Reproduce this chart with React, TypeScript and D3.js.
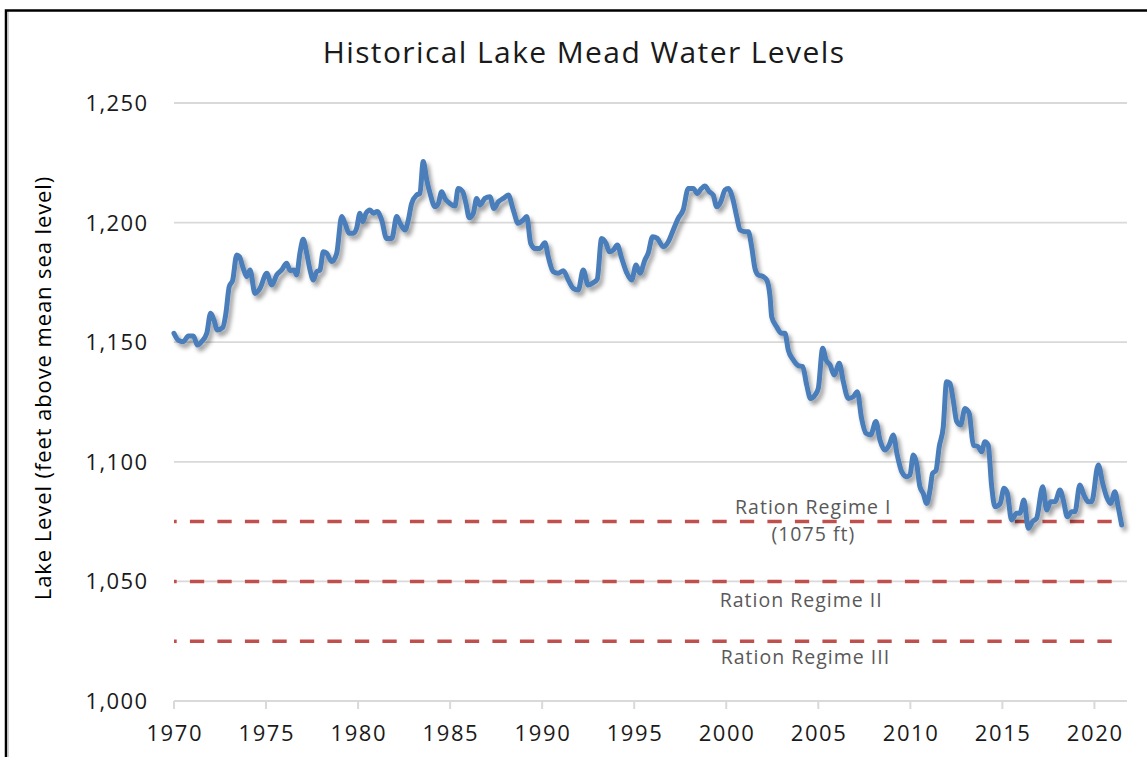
import React from "react";
import * as d3 from "d3";

// ---- Data (decimal year, lake level in ft) ----
const years: number[] = [
  1970.0, 1970.23, 1970.51, 1970.78, 1971.05, 1971.27, 1971.5, 1971.78, 1971.99, 1972.17,
  1972.35, 1972.65, 1972.82, 1973.0, 1973.19, 1973.41, 1973.55, 1973.76, 1973.95, 1974.13,
  1974.4, 1974.67, 1975.04, 1975.31, 1975.58, 1975.85, 1976.12, 1976.3, 1976.52, 1976.66,
  1976.84, 1977.02, 1977.21, 1977.39, 1977.57, 1977.75, 1977.93, 1978.11, 1978.29, 1978.57,
  1978.84, 1979.11, 1979.29, 1979.52, 1979.74, 1979.92, 1980.1, 1980.25, 1980.43, 1980.65,
  1980.83, 1981.04, 1981.28, 1981.55, 1981.83, 1982.1, 1982.28, 1982.55, 1982.73, 1982.91,
  1983.18, 1983.36, 1983.54, 1983.73, 1983.91, 1984.18, 1984.36, 1984.54, 1984.72, 1984.99,
  1985.26, 1985.44, 1985.68, 1985.86, 1986.04, 1986.26, 1986.44, 1986.62, 1986.89, 1987.16,
  1987.38, 1987.62, 1987.89, 1988.16, 1988.43, 1988.7, 1988.97, 1989.16, 1989.38, 1989.61,
  1989.88, 1990.15, 1990.33, 1990.6, 1990.87, 1991.15, 1991.42, 1991.69, 1991.96, 1992.23,
  1992.5, 1992.78, 1992.99, 1993.23, 1993.47, 1993.65, 1993.86, 1994.08, 1994.32, 1994.59,
  1994.86, 1995.1, 1995.31, 1995.58, 1995.76, 1996.0, 1996.25, 1996.58, 1996.85, 1997.12,
  1997.39, 1997.66, 1997.94, 1998.21, 1998.42, 1998.66, 1998.84, 1999.08, 1999.29, 1999.48,
  1999.7, 1999.93, 2000.11, 2000.35, 2000.57, 2000.75, 2001.02, 2001.2, 2001.38, 2001.56,
  2001.74, 2002.01, 2002.2, 2002.38, 2002.47, 2002.74, 2003.01, 2003.19, 2003.37, 2003.64,
  2003.91, 2004.15, 2004.37, 2004.58, 2004.82, 2005.0, 2005.24, 2005.42, 2005.64, 2005.86,
  2006.14, 2006.36, 2006.63, 2006.9, 2007.12, 2007.35, 2007.59, 2007.84, 2008.13, 2008.35,
  2008.62, 2008.85, 2009.07, 2009.29, 2009.53, 2009.8, 2009.98, 2010.16, 2010.34, 2010.52,
  2010.7, 2010.89, 2011.07, 2011.21, 2011.39, 2011.57, 2011.79, 2011.97, 2012.15, 2012.33,
  2012.52, 2012.73, 2012.97, 2013.2, 2013.42, 2013.69, 2013.87, 2014.05, 2014.23, 2014.42,
  2014.6, 2014.87, 2015.09, 2015.27, 2015.5, 2015.77, 2015.95, 2016.17, 2016.41, 2016.64,
  2016.86, 2017.19, 2017.41, 2017.62, 2017.86, 2018.13, 2018.31, 2018.53, 2018.76, 2018.94,
  2019.21, 2019.43, 2019.67, 2019.85, 2020.21, 2020.45, 2020.66, 2020.88, 2021.11, 2021.29,
  2021.48,
];

const levels: number[] = [
  1153.7, 1150.9, 1150.2, 1152.6, 1152.6, 1148.8, 1150.2, 1153.7, 1162.1, 1159.3,
  1155.1, 1156.2, 1162.1, 1173.2, 1176.0, 1186.5, 1185.8, 1180.9, 1177.4, 1180.2,
  1170.4, 1172.5, 1178.8, 1173.9, 1178.1, 1180.2, 1183.0, 1180.0, 1180.2, 1178.1,
  1187.2, 1193.0, 1187.2, 1180.2, 1176.0, 1179.5, 1180.2, 1187.8, 1187.2, 1183.7,
  1187.2, 1202.5, 1199.7, 1195.5, 1195.5, 1197.6, 1203.9, 1200.4, 1203.9, 1205.3,
  1203.9, 1204.6, 1201.1, 1193.4, 1193.4, 1202.5, 1199.7, 1196.9, 1201.1, 1208.0,
  1211.5, 1212.2, 1225.5, 1217.8, 1212.2, 1206.6, 1208.0, 1212.9, 1210.1, 1208.0,
  1206.9, 1214.3, 1212.9, 1208.0, 1202.0, 1203.9, 1210.1, 1207.3, 1210.1, 1210.8,
  1205.9, 1208.7, 1210.1, 1211.5, 1205.3, 1199.7, 1201.1, 1202.5, 1191.3, 1189.2,
  1189.2, 1191.6, 1185.8, 1179.5, 1178.8, 1179.9, 1176.0, 1172.5, 1171.8, 1180.2,
  1173.9, 1174.9, 1176.3, 1193.4, 1191.3, 1187.8, 1188.5, 1190.6, 1185.1, 1179.1,
  1176.0, 1182.3, 1178.8, 1184.4, 1187.2, 1194.1, 1193.4, 1189.9, 1192.0, 1196.9,
  1201.8, 1205.3, 1214.3, 1214.3, 1212.2, 1214.3, 1215.3, 1212.9, 1211.5, 1206.6,
  1208.7, 1213.6, 1214.3, 1210.1, 1202.5, 1196.9, 1196.2, 1196.2, 1189.9, 1180.9,
  1178.1, 1177.4, 1176.0, 1169.0, 1160.6, 1156.4, 1153.7, 1153.7, 1146.7, 1142.6,
  1140.2, 1139.8, 1132.1, 1126.5, 1127.9, 1130.7, 1147.5, 1142.6, 1140.5, 1136.3,
  1141.2, 1133.5, 1126.5, 1127.2, 1129.3, 1118.2, 1111.9, 1111.2, 1116.8, 1109.1,
  1104.9, 1107.0, 1111.2, 1102.8, 1095.9, 1093.8, 1094.5, 1102.8, 1099.4, 1089.6,
  1086.8, 1082.6, 1088.2, 1095.2, 1096.3, 1106.3, 1114.7, 1133.5, 1132.8, 1125.8,
  1116.8, 1115.4, 1122.3, 1120.2, 1107.0, 1106.3, 1104.2, 1108.4, 1107.0, 1089.6,
  1081.2, 1082.4, 1088.9, 1086.8, 1075.7, 1078.5, 1078.5, 1084.0, 1072.2, 1075.0,
  1076.4, 1089.6, 1079.8, 1083.3, 1083.3, 1088.2, 1084.0, 1077.0, 1079.1, 1079.1,
  1090.3, 1086.1, 1083.3, 1083.3, 1098.7, 1091.0, 1085.4, 1082.6, 1087.5, 1081.2,
  1073.6,
];

const yTicks: number[] = [1000, 1050, 1100, 1150, 1200, 1250];
const xTicks: number[] = [1970, 1975, 1980, 1985, 1990, 1995, 2000, 2005, 2010, 2015, 2020];

const regimeLevels: number[] = [1075, 1050, 1025];
const regimeLabels: string[][] = [
  ["Ration Regime I", "(1075 ft)"],
  ["Ration Regime II"],
  ["Ration Regime III"],
];
const regimeLabelYears: number[] = [2004.73, 2004.07, 2004.3];
const regimeLabelLevels: number[] = [1078.3, 1039.4, 1015.6];

const TITLE = "Historical Lake Mead Water Levels";
const Y_TITLE = "Lake Level (feet above mean sea level)";

const W = 1147;
const H = 757;
const FONT = "'Open Sans', 'Noto Sans', sans-serif";

export default function App() {
  const x = d3.scaleLinear().domain([1970, 2021.77]).range([174, 1127]);
  const y = d3.scaleLinear().domain([1000, 1250]).range([701, 103]);

  const pts: [number, number][] = years.map((yr, i) => [yr, levels[i]]);
  const line = d3
    .line<[number, number]>()
    .x((d) => x(d[0]))
    .y((d) => y(d[1]))
    .curve(d3.curveMonotoneX);

  const fmt = d3.format(",");
  const dashEnd = 2021.0;

  return (
    <svg
      width={W}
      height={H}
      style={{ position: "absolute", left: 0, top: 0, background: "#fff" }}
    >
      <defs>
        <filter id="shadow" x="-5%" y="-5%" width="110%" height="120%">
          <feDropShadow dx="3" dy="4" stdDeviation="2.2" floodColor="#000" floodOpacity="0.38" />
        </filter>
      </defs>
      <rect x={0} y={0} width={W} height={H} fill="#fff" />
      {/* frame */}
      <rect x={6} y={10.5} width={W + 20} height={H + 20} fill="none" stroke="#000" strokeWidth={2.5} />
      <line x1={8.5} y1={12} x2={8.5} y2={H} stroke="#d0d0d0" strokeWidth={1} />

      {/* title */}
      <text x={584} y={63} textAnchor="middle" fontFamily={FONT} fontSize={30} letterSpacing={1.4} fill="#1a1a1a">
        {TITLE}
      </text>

      {/* gridlines */}
      {yTicks.slice(1).map((t) => (
        <line key={"g" + t} x1={x(1970)} x2={1127} y1={y(t)} y2={y(t)} stroke="#d9d9d9" strokeWidth={1.8} />
      ))}
      {/* x axis */}
      <line x1={x(1970)} x2={1127} y1={y(1000)} y2={y(1000)} stroke="#d9d9d9" strokeWidth={2} />
      {xTicks.map((t) => (
        <g key={"xt" + t}>
          <line x1={x(t)} x2={x(t)} y1={y(1000)} y2={y(1000) + 8} stroke="#d9d9d9" strokeWidth={2} />
          <text x={x(t) + 0.8} y={741} textAnchor="middle" fontFamily={FONT} fontSize={22} letterSpacing={1.6} fill="#1a1a1a">
            {t}
          </text>
        </g>
      ))}
      {/* y tick labels */}
      {yTicks.map((t) => (
        <text key={"yt" + t} x={148.5} y={y(t) + 8} textAnchor="end" fontFamily={FONT} fontSize={22} letterSpacing={1.4} fill="#1a1a1a">
          {fmt(t)}
        </text>
      ))}
      {/* y title */}
      <text
        transform={`translate(51, ${388}) rotate(-90)`}
        textAnchor="middle"
        fontFamily={FONT}
        fontSize={22}
        letterSpacing={0.9}
        fill="#000"
      >
        {Y_TITLE}
      </text>

      {/* regime dashed lines */}
      {regimeLevels.map((lv) => (
        <line
          key={"r" + lv}
          x1={x(1970)}
          x2={x(dashEnd)}
          y1={y(lv)}
          y2={y(lv)}
          stroke="#C0504D"
          strokeWidth={3.5}
          strokeDasharray="14.3 13.2"
          strokeDashoffset={11.6}
        />
      ))}
      {regimeLabels.map((lines, i) => (
        <text
          key={"rl" + i}
          x={x(regimeLabelYears[i])}
          y={y(regimeLabelLevels[i])}
          textAnchor="middle"
          fontFamily={FONT}
          fontSize={19.5}
          letterSpacing={1}
          fill="#595959"
        >
          {lines.map((s, j) => (
            <tspan key={j} x={x(regimeLabelYears[i])} dy={j === 0 ? 0 : 27}>
              {s}
            </tspan>
          ))}
        </text>
      ))}

      {/* data line */}
      <path
        d={line(pts) || ""}
        fill="none"
        stroke="#4A7EBB"
        strokeWidth={5}
        strokeLinejoin="round"
        strokeLinecap="round"
        filter="url(#shadow)"
      />
    </svg>
  );
}
